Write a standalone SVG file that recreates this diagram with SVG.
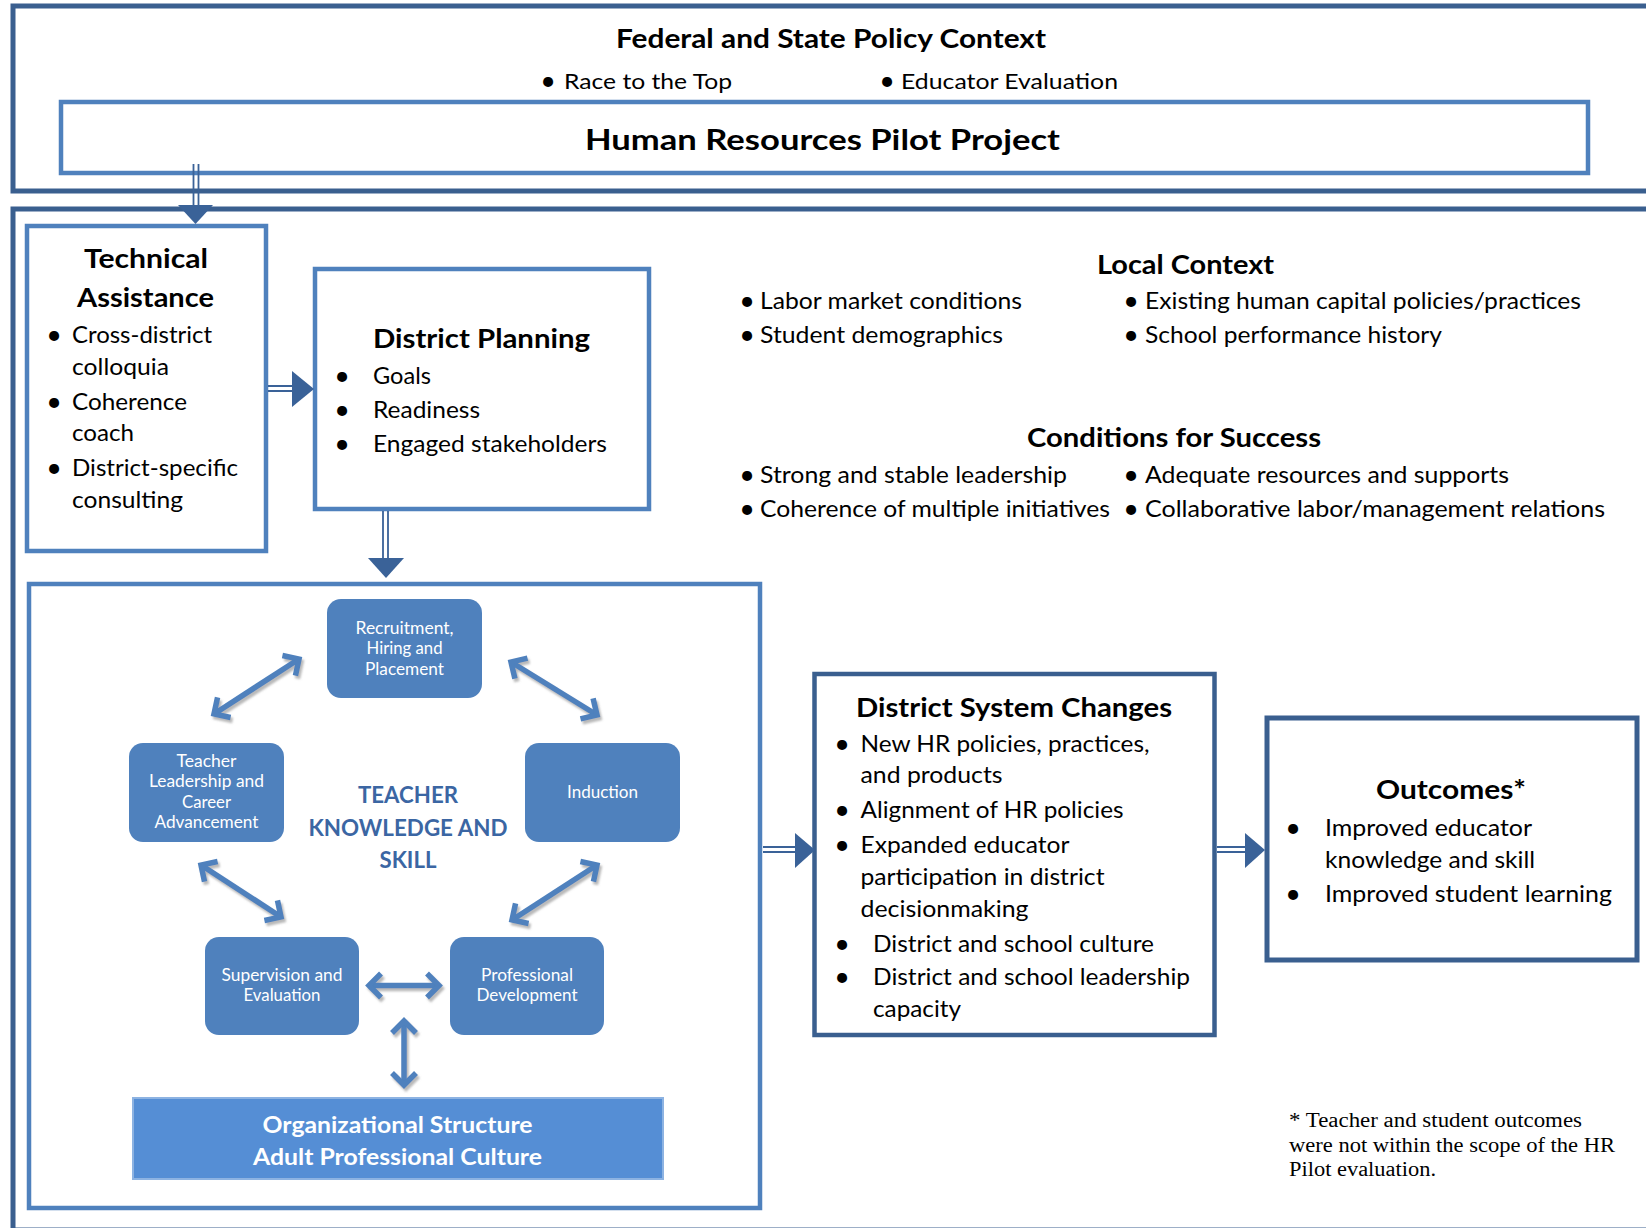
<svg xmlns="http://www.w3.org/2000/svg" width="1646" height="1228" viewBox="0 0 1646 1228">
<defs>
<style>
text{font-family:Lato,"Liberation Sans",sans-serif;fill:#000}
.b{font-weight:700}
.h{font-size:26px;font-weight:700}
.t{font-size:23.5px}
.f{font-size:21px}
.d{font-size:27px}
.s{font-size:16.5px;fill:#fff}
.k{font-size:23px;font-weight:700;fill:#3b66a3}
.o{font-size:22px;font-weight:700;fill:#fff}
.n{font-family:"Liberation Serif",serif;font-size:20px}
.dark{fill:none;stroke:#3a5f8f;stroke-width:5}
.light{fill:none;stroke:#4f81bd;stroke-width:4.5}
.rb{fill:#4f81bd}
.shaft{stroke:#3a6298;stroke-width:1.8;fill:none}
.head{fill:#3a6298}
.dbl{stroke:#4f81bd;stroke-width:5.5;fill:none;marker-start:url(#chev);marker-end:url(#chev)}
</style>
<marker id="chev" markerUnits="userSpaceOnUse" viewBox="-16 -16 32 32" markerWidth="32" markerHeight="32" refX="0" refY="0" orient="auto-start-reverse">
<path d="M-12,-12 L0,0 L-12,12" fill="none" stroke="#4f81bd" stroke-width="5.5"/>
</marker>
<filter id="sh" x="-20%" y="-20%" width="140%" height="140%">
<feDropShadow dx="2" dy="3" stdDeviation="1.2" flood-color="#7f7f7f" flood-opacity="0.55"/>
</filter>
</defs>
<rect width="1646" height="1228" fill="#fff"/>

<g id="policy-context">
<rect class="dark" x="13" y="6" width="1700" height="185"/>
<text class="h" x="616" y="48" textLength="430" lengthAdjust="spacingAndGlyphs">Federal and State Policy Context</text>
<text class="d" x="548" y="90" text-anchor="middle">•</text>
<text class="f" x="564" y="89" textLength="168" lengthAdjust="spacingAndGlyphs">Race to the Top</text>
<text class="d" x="887" y="90" text-anchor="middle">•</text>
<text class="f" x="901" y="89" textLength="217" lengthAdjust="spacingAndGlyphs">Educator Evaluation</text>
</g>

<g id="hr-pilot">
<rect class="light" x="61" y="102" width="1527" height="71" stroke-width="5"/>
<text class="b" font-size="29" x="585" y="150" textLength="475" lengthAdjust="spacingAndGlyphs">Human Resources Pilot Project</text>
</g>

<g id="district-context">
<rect class="dark" x="13" y="209" width="1700" height="1021"/>
</g>

<g id="technical-assistance">
<rect class="light" x="27" y="226" width="239" height="325"/>
<text class="b" font-size="27" x="84" y="268" textLength="124" lengthAdjust="spacingAndGlyphs">Technical</text>
<text class="b" font-size="27" x="77" y="307" textLength="137" lengthAdjust="spacingAndGlyphs">Assistance</text>
<text class="d" x="54" y="344" text-anchor="middle">•</text>
<text class="t" x="72" y="343" textLength="140" lengthAdjust="spacingAndGlyphs">Cross-district</text>
<text class="t" x="72" y="375" textLength="97" lengthAdjust="spacingAndGlyphs">colloquia</text>
<text class="d" x="54" y="411" text-anchor="middle">•</text>
<text class="t" x="72" y="410" textLength="115" lengthAdjust="spacingAndGlyphs">Coherence</text>
<text class="t" x="72" y="441" textLength="62" lengthAdjust="spacingAndGlyphs">coach</text>
<text class="d" x="54" y="477" text-anchor="middle">•</text>
<text class="t" x="72" y="476" textLength="166" lengthAdjust="spacingAndGlyphs">District-specific</text>
<text class="t" x="72" y="508" textLength="111" lengthAdjust="spacingAndGlyphs">consulting</text>
</g>

<g id="district-planning">
<rect class="light" x="315" y="269" width="334" height="240"/>
<text class="h" x="373" y="348" textLength="217" lengthAdjust="spacingAndGlyphs">District Planning</text>
<text class="d" x="342" y="385" text-anchor="middle">•</text>
<text class="t" x="373" y="384" textLength="58" lengthAdjust="spacingAndGlyphs">Goals</text>
<text class="d" x="342" y="419" text-anchor="middle">•</text>
<text class="t" x="373" y="418" textLength="107" lengthAdjust="spacingAndGlyphs">Readiness</text>
<text class="d" x="342" y="453" text-anchor="middle">•</text>
<text class="t" x="373" y="452" textLength="234" lengthAdjust="spacingAndGlyphs">Engaged stakeholders</text>
</g>

<g id="local-context">
<text class="h" x="1097" y="274" textLength="177" lengthAdjust="spacingAndGlyphs">Local Context</text>
<text class="d" x="747" y="310" text-anchor="middle">•</text>
<text class="t" x="760" y="309" textLength="262" lengthAdjust="spacingAndGlyphs">Labor market conditions</text>
<text class="d" x="747" y="344" text-anchor="middle">•</text>
<text class="t" x="760" y="343" textLength="243" lengthAdjust="spacingAndGlyphs">Student demographics</text>
<text class="d" x="1131" y="310" text-anchor="middle">•</text>
<text class="t" x="1145" y="309" textLength="436" lengthAdjust="spacingAndGlyphs">Existing human capital policies/practices</text>
<text class="d" x="1131" y="344" text-anchor="middle">•</text>
<text class="t" x="1145" y="343" textLength="297" lengthAdjust="spacingAndGlyphs">School performance history</text>
</g>

<g id="conditions-for-success">
<text class="h" x="1027" y="447" textLength="294" lengthAdjust="spacingAndGlyphs">Conditions for Success</text>
<text class="d" x="747" y="484" text-anchor="middle">•</text>
<text class="t" x="760" y="483" textLength="307" lengthAdjust="spacingAndGlyphs">Strong and stable leadership</text>
<text class="d" x="747" y="518" text-anchor="middle">•</text>
<text class="t" x="760" y="517" textLength="350" lengthAdjust="spacingAndGlyphs">Coherence of multiple initiatives</text>
<text class="d" x="1131" y="484" text-anchor="middle">•</text>
<text class="t" x="1145" y="483" textLength="364" lengthAdjust="spacingAndGlyphs">Adequate resources and supports</text>
<text class="d" x="1131" y="518" text-anchor="middle">•</text>
<text class="t" x="1145" y="517" textLength="460" lengthAdjust="spacingAndGlyphs">Collaborative labor/management relations</text>
</g>

<g id="teacher-knowledge-system">
<rect class="light" x="29" y="584" width="731" height="624"/>
<text class="k" x="408" y="803" text-anchor="middle" textLength="100" lengthAdjust="spacingAndGlyphs">TEACHER</text>
<text class="k" x="408" y="836" text-anchor="middle" textLength="199" lengthAdjust="spacingAndGlyphs">KNOWLEDGE AND</text>
<text class="k" x="408" y="868" text-anchor="middle" textLength="57" lengthAdjust="spacingAndGlyphs">SKILL</text>
</g>

<g id="recruitment">
<rect class="rb" x="327" y="599" width="155" height="99" rx="14"/>
<text class="s" x="404.5" y="634" text-anchor="middle" textLength="98" lengthAdjust="spacingAndGlyphs">Recruitment,</text>
<text class="s" x="404.5" y="654" text-anchor="middle" textLength="76" lengthAdjust="spacingAndGlyphs">Hiring and</text>
<text class="s" x="404.5" y="675" text-anchor="middle" textLength="79" lengthAdjust="spacingAndGlyphs">Placement</text>
</g>

<g id="teacher-leadership">
<rect class="rb" x="129" y="743" width="155" height="99" rx="14"/>
<text class="s" x="206.5" y="767" text-anchor="middle" textLength="60" lengthAdjust="spacingAndGlyphs">Teacher</text>
<text class="s" x="206.5" y="787" text-anchor="middle" textLength="115" lengthAdjust="spacingAndGlyphs">Leadership and</text>
<text class="s" x="206.5" y="808" text-anchor="middle" textLength="49" lengthAdjust="spacingAndGlyphs">Career</text>
<text class="s" x="206.5" y="828" text-anchor="middle" textLength="104" lengthAdjust="spacingAndGlyphs">Advancement</text>
</g>

<g id="induction">
<rect class="rb" x="525" y="743" width="155" height="99" rx="14"/>
<text class="s" x="602.5" y="798" text-anchor="middle" textLength="71" lengthAdjust="spacingAndGlyphs">Induction</text>
</g>

<g id="supervision">
<rect class="rb" x="205" y="937" width="154" height="98" rx="14"/>
<text class="s" x="282" y="981" text-anchor="middle" textLength="121" lengthAdjust="spacingAndGlyphs">Supervision and</text>
<text class="s" x="282" y="1001" text-anchor="middle" textLength="77" lengthAdjust="spacingAndGlyphs">Evaluation</text>
</g>

<g id="professional-development">
<rect class="rb" x="450" y="937" width="154" height="98" rx="14"/>
<text class="s" x="527" y="981" text-anchor="middle" textLength="92" lengthAdjust="spacingAndGlyphs">Professional</text>
<text class="s" x="527" y="1001" text-anchor="middle" textLength="101" lengthAdjust="spacingAndGlyphs">Development</text>
</g>

<g id="organizational-structure">
<rect x="133" y="1098" width="530" height="81" fill="#558ed5" stroke="#8db3e2" stroke-width="2"/>
<text class="o" x="397.5" y="1133" text-anchor="middle" textLength="270" lengthAdjust="spacingAndGlyphs">Organizational Structure</text>
<text class="o" x="397.5" y="1165" text-anchor="middle" textLength="289" lengthAdjust="spacingAndGlyphs">Adult Professional Culture</text>
</g>

<g id="district-system-changes">
<rect x="814.5" y="674" width="400" height="361" fill="none" stroke="#3a5f8f" stroke-width="4.5"/>
<text class="h" font-size="27" x="856" y="717" textLength="316" lengthAdjust="spacingAndGlyphs">District System Changes</text>
<text class="d" x="842" y="753" text-anchor="middle">•</text>
<text class="t" x="860.5" y="752" textLength="289" lengthAdjust="spacingAndGlyphs">New HR policies, practices,</text>
<text class="t" x="860.5" y="783" textLength="142" lengthAdjust="spacingAndGlyphs">and products</text>
<text class="d" x="842" y="819" text-anchor="middle">•</text>
<text class="t" x="860.5" y="818" textLength="263" lengthAdjust="spacingAndGlyphs">Alignment of HR policies</text>
<text class="d" x="842" y="854" text-anchor="middle">•</text>
<text class="t" x="860.5" y="853" textLength="209" lengthAdjust="spacingAndGlyphs">Expanded educator</text>
<text class="t" x="860.5" y="885" textLength="244" lengthAdjust="spacingAndGlyphs">participation in district</text>
<text class="t" x="860.5" y="917" textLength="168" lengthAdjust="spacingAndGlyphs">decisionmaking</text>
<text class="d" x="842" y="953" text-anchor="middle">•</text>
<text class="t" x="873" y="952" textLength="281" lengthAdjust="spacingAndGlyphs">District and school culture</text>
<text class="d" x="842" y="986" text-anchor="middle">•</text>
<text class="t" x="873" y="985" textLength="317" lengthAdjust="spacingAndGlyphs">District and school leadership</text>
<text class="t" x="873" y="1017" textLength="88" lengthAdjust="spacingAndGlyphs">capacity</text>
</g>

<g id="outcomes">
<rect x="1267" y="718" width="370" height="242" fill="none" stroke="#3a5f8f" stroke-width="5"/>
<text class="h" font-size="27" x="1376" y="799" textLength="150" lengthAdjust="spacingAndGlyphs">Outcomes*</text>
<text class="d" x="1293" y="837" text-anchor="middle">•</text>
<text class="t" x="1325" y="836" textLength="207" lengthAdjust="spacingAndGlyphs">Improved educator</text>
<text class="t" x="1325" y="868" textLength="210" lengthAdjust="spacingAndGlyphs">knowledge and skill</text>
<text class="d" x="1293" y="903" text-anchor="middle">•</text>
<text class="t" x="1325" y="902" textLength="287" lengthAdjust="spacingAndGlyphs">Improved student learning</text>
</g>

<g id="footnote">
<text class="n" x="1289" y="1127" textLength="293" lengthAdjust="spacingAndGlyphs">* Teacher and student outcomes</text>
<text class="n" x="1289" y="1152" textLength="326" lengthAdjust="spacingAndGlyphs">were not within the scope of the HR</text>
<text class="n" x="1289" y="1176" textLength="147" lengthAdjust="spacingAndGlyphs">Pilot evaluation.</text>
</g>

<g id="connectors">
<path class="shaft" d="M193.5,164 V206 M198.5,164 V206"/>
<polygon class="head" points="178,205 213,205 195.5,224"/>
<path class="shaft" d="M268,386 H293 M268,391 H293"/>
<polygon class="head" points="292,371 292,407 314,389"/>
<path class="shaft" d="M383,511 V559 M388,511 V559"/>
<polygon class="head" points="368,558 404,558 386,578"/>
<path class="shaft" d="M763,847 H796 M763,852 H796"/>
<polygon class="head" points="795,833 795,868 815,850"/>
<path class="shaft" d="M1217,847 H1246 M1217,852 H1246"/>
<polygon class="head" points="1245,833 1245,868 1265,850"/>
<g filter="url(#sh)">
<line class="dbl" x1="214" y1="714" x2="299" y2="659"/>
<line class="dbl" x1="511" y1="662" x2="597" y2="715"/>
<line class="dbl" x1="201" y1="865" x2="281" y2="917"/>
<line class="dbl" x1="597" y1="865" x2="512" y2="920"/>
<line class="dbl" x1="369" y1="985.5" x2="439" y2="985.5"/>
<line class="dbl" x1="404" y1="1021" x2="404" y2="1085"/>
</g>
</g>
</svg>
